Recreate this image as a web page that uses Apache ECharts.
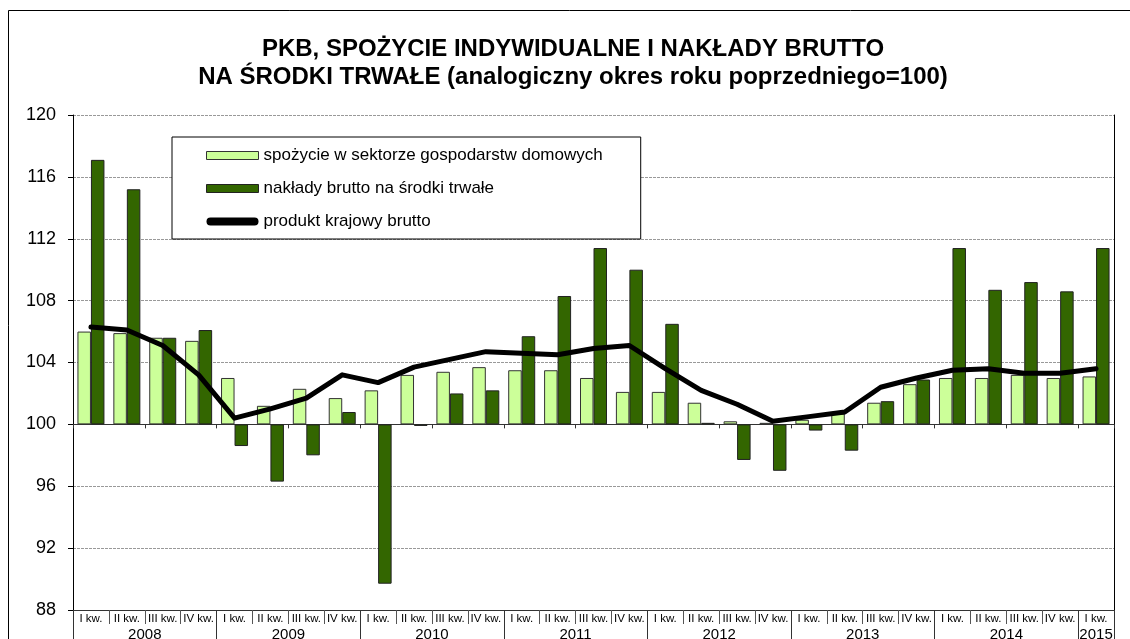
<!DOCTYPE html>
<html>
<head>
<meta charset="utf-8">
<script src="https://cdn.jsdelivr.net/npm/echarts@6/dist/echarts.min.js"></script>
<style>
  html, body { margin: 0; padding: 0; background: #fff; }
  #chart { width: 1130px; height: 639px; }
</style>
</head>
<body>
<div id="chart"></div>
<script>
// kwartały 2008 - I kw. 2015
const quarters = [
  'I kw.', 'II kw.', 'III kw.', 'IV kw.',
  'I kw.', 'II kw.', 'III kw.', 'IV kw.',
  'I kw.', 'II kw.', 'III kw.', 'IV kw.',
  'I kw.', 'II kw.', 'III kw.', 'IV kw.',
  'I kw.', 'II kw.', 'III kw.', 'IV kw.',
  'I kw.', 'II kw.', 'III kw.', 'IV kw.',
  'I kw.', 'II kw.', 'III kw.', 'IV kw.',
  'I kw.'
];
const years = ['2008', '2009', '2010', '2011', '2012', '2013', '2014', '2015'];
const quartersPerYear = [4, 4, 4, 4, 4, 4, 4, 1];

const consumption = [
  106.0, 105.9, 105.6, 105.4,
  103.0, 101.2, 102.3, 101.7,
  102.2, 103.2, 103.4, 103.7,
  103.5, 103.5, 103.0, 102.1,
  102.1, 101.4, 100.2, 100.1,
  100.3, 100.7, 101.4, 102.6,
  103.0, 103.0, 103.2, 103.0,
  103.1
];
const investment = [
  117.1, 115.2, 105.6, 106.1,
  98.6, 96.3, 98.0, 100.8,
  89.7, 99.9, 102.0, 102.2,
  105.7, 108.3, 111.4, 110.0,
  106.5, 100.1, 97.7, 97.0,
  99.6, 98.3, 101.5, 102.9,
  111.4, 108.7, 109.2, 108.6,
  111.4
];
const gdp = [
  106.3, 106.1, 105.1, 103.2,
  100.4, 101.0, 101.7, 103.2,
  102.7, 103.7, 104.2, 104.7,
  104.6, 104.5, 104.9, 105.1,
  103.6, 102.2, 101.3, 100.2,
  100.5, 100.8, 102.4, 103.0,
  103.5, 103.6, 103.3, 103.3,
  103.6
];
const yTicks = { min: 88, max: 120, step: 4 };
const BASE = 100; // słupki rosną od 100

const names = [
  'spożycie w sektorze gospodarstw domowych',
  'nakłady brutto na środki trwałe',
  'produkt krajowy brutto'
];

// granice i środki lat na osi wartości (-0.5 .. 28.5)
const yearBounds = [-0.5];
const yearCenters = [];
quartersPerYear.forEach(n => {
  const start = yearBounds[yearBounds.length - 1];
  yearCenters.push(start + n / 2);
  yearBounds.push(start + n);
});

const chart = echarts.init(document.getElementById('chart'));
const font = 'Liberation Sans, Arial, sans-serif';

chart.setOption({
  animation: false,
  textStyle: { fontFamily: font },
  title: {
    text: 'PKB, SPOŻYCIE INDYWIDUALNE I NAKŁADY BRUTTO\nNA ŚRODKI TRWAŁE (analogiczny okres roku poprzedniego=100)',
    left: 568,
    textAlign: 'center',
    top: 30,
    textStyle: {
      fontFamily: font,
      fontSize: 24,
      fontWeight: 'bold',
      color: '#000',
      lineHeight: 28
    }
  },
  graphic: [{
    type: 'rect',
    shape: { x: 8.5, y: 10.5, width: 1140, height: 650 },
    style: { fill: 'none', stroke: '#000', lineWidth: 1 },
    silent: true
  }],
  legend: {
    orient: 'vertical',
    left: 172,
    top: 137,
    padding: [10, 38, 9, 34],
    itemGap: 16,
    itemWidth: 52,
    itemHeight: 8,
    backgroundColor: '#fff',
    borderColor: '#000',
    borderWidth: 1,
    borderRadius: 0,
    textStyle: { fontFamily: font, fontSize: 17, color: '#000' },
    data: [
      { name: names[0], icon: 'rect', itemStyle: { color: '#ccff99', borderColor: '#333', borderWidth: 1 } },
      { name: names[1], icon: 'rect', itemStyle: { color: '#336600', borderColor: '#222', borderWidth: 1 } },
      {
        name: names[2],
        icon: 'path://M4,0 L48,0 A4,4 0 0 1 48,8 L4,8 A4,4 0 0 1 4,0 Z',
        itemStyle: { color: '#000', borderWidth: 0 }
      }
    ]
  },
  grid: {
    left: 73,
    right: 16,
    top: 115,
    bottom: 29,
    outerBoundsMode: 'none'
  },
  xAxis: [
    {
      type: 'category',
      data: quarters,
      position: 'bottom',
      axisLine: { show: true, onZero: true, lineStyle: { color: '#333', width: 1 } },
      axisTick: { show: true, length: 4, lineStyle: { color: '#333' } },
      axisLabel: { show: false },
      splitLine: { show: false }
    },
    {
      type: 'category',
      data: quarters,
      position: 'bottom',
      axisLine: { show: true, onZero: false, lineStyle: { color: '#333', width: 1 } },
      axisTick: { show: true, length: 14, lineStyle: { color: '#555' } },
      axisLabel: {
        show: true,
        interval: 0,
        margin: 3,
        fontFamily: font,
        fontSize: 11.5,
        color: '#000'
      },
      splitLine: { show: false }
    },
    {
      type: 'value',
      min: -0.5,
      max: 28.5,
      position: 'bottom',
      axisLine: { show: false, onZero: false },
      axisTick: {
        show: true,
        length: 29,
        customValues: yearBounds,
        lineStyle: { color: '#333' }
      },
      axisLabel: {
        show: true,
        margin: 17,
        fontFamily: font,
        fontSize: 15,
        color: '#000',
        customValues: yearCenters,
        formatter: v => years[yearCenters.indexOf(v)]
      },
      splitLine: { show: false }
    }
  ],
  yAxis: [
    {
      type: 'value',
      min: yTicks.min - BASE,
      max: yTicks.max - BASE,
      interval: yTicks.step,
      axisLine: { show: true, onZero: false, lineStyle: { color: '#000', width: 1 } },
      axisTick: { show: true, length: 5, lineStyle: { color: '#000' } },
      axisLabel: {
        margin: 17,
        fontFamily: font,
        fontSize: 18,
        color: '#000',
        formatter: v => String(v + BASE)
      },
      splitLine: { show: true, lineStyle: { color: '#999', type: [3, 1], width: 1 } }
    },
    {
      type: 'value',
      position: 'right',
      min: yTicks.min - BASE,
      max: yTicks.max - BASE,
      interval: yTicks.step,
      axisLine: { show: true, onZero: false, lineStyle: { color: '#000', width: 1 } },
      axisTick: { show: false },
      axisLabel: { show: false },
      splitLine: { show: false }
    }
  ],
  series: [
    {
      name: names[0],
      type: 'bar',
      xAxisIndex: 0,
      barWidth: 13.5,
      barGap: '0%',
      itemStyle: { color: '#ccff99', borderColor: '#333', borderWidth: 1 },
      data: consumption.map(v => +(v - BASE).toFixed(2)),
      z: 2
    },
    {
      name: names[1],
      type: 'bar',
      xAxisIndex: 0,
      barWidth: 13.5,
      barGap: '0%',
      itemStyle: { color: '#336600', borderColor: '#222', borderWidth: 1 },
      data: investment.map(v => +(v - BASE).toFixed(2)),
      z: 2
    },
    {
      name: names[2],
      type: 'line',
      xAxisIndex: 0,
      symbol: 'none',
      lineStyle: { color: '#000', width: 5, cap: 'round', join: 'round' },
      itemStyle: { color: '#000' },
      data: gdp.map(v => +(v - BASE).toFixed(2)),
      z: 3
    }
  ]
});
</script>
</body>
</html>
